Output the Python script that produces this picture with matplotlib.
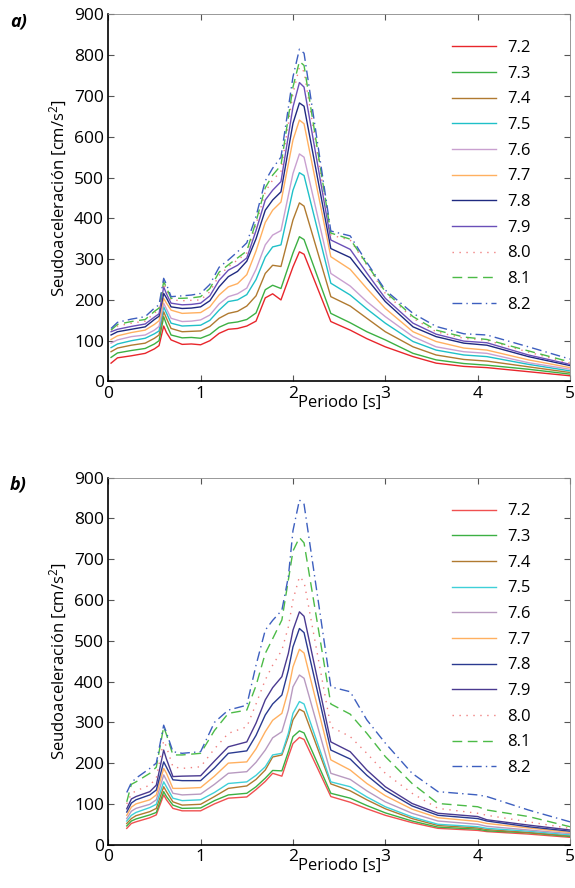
import numpy as np
import matplotlib
matplotlib.use("Agg")
import matplotlib.pyplot as plt

plt.rcParams['font.family'] = ['Open Sans', 'DejaVu Sans']
plt.rcParams['mathtext.fontset'] = 'custom'
plt.rcParams['mathtext.rm'] = 'Open Sans'
plt.rcParams['mathtext.it'] = 'Open Sans:italic'

magnitudes = ['7.2', '7.3', '7.4', '7.5', '7.6', '7.7', '7.8', '7.9', '8.0', '8.1', '8.2']

# ---- panel a) : periods (s) and pseudo-acceleration (cm/s^2) ----
T_a = [0.03, 0.1, 0.25, 0.4, 0.5, 0.55, 0.6, 0.63, 0.68, 0.8, 0.9, 1.0, 1.1, 1.2,
       1.3, 1.4, 1.5, 1.6, 1.7, 1.78, 1.87, 2.0, 2.07, 2.12, 2.41, 2.62, 2.8, 3.0,
       3.3, 3.55, 3.85, 4.1, 4.55, 5.0]
a_72 = [45, 58, 63, 69, 80, 88, 136, 120, 102, 91, 92, 90, 100, 118, 128, 130, 136, 148,
        205, 215, 200, 281, 318, 312, 147, 126, 105, 85, 61, 45, 37, 34, 24, 14]
a_73 = [59, 70, 76, 81, 92, 100, 159, 140, 114, 107, 108, 106, 115, 133, 143, 146, 152, 168,
        225, 236, 228, 315, 355, 348, 167, 144, 122, 102, 69, 53, 44, 40, 30, 18]
a_74 = [73, 82, 89, 94, 106, 114, 171, 155, 130, 122, 123, 124, 135, 155, 167, 172, 185, 210,
        265, 285, 282, 396, 438, 430, 208, 185, 155, 122, 85, 65, 54, 50, 36, 22]
a_75 = [83, 92, 100, 106, 117, 124, 183, 168, 143, 136, 137, 138, 150, 175, 196, 200, 213, 250,
        305, 330, 335, 469, 512, 505, 241, 212, 178, 143, 98, 77, 65, 61, 42, 26]
a_76 = [94, 102, 110, 114, 126, 135, 192, 178, 155, 147, 148, 151, 163, 190, 208, 215, 229, 275,
        335, 359, 370, 510, 558, 550, 265, 234, 196, 159, 110, 85, 73, 69, 46, 30]
a_77 = [103, 112, 120, 126, 140, 149, 204, 192, 175, 167, 168, 169, 183, 212, 232, 240, 262, 320,
        390, 420, 440, 592, 641, 632, 306, 275, 228, 179, 122, 98, 82, 77, 53, 34]
a_78 = [114, 122, 128, 134, 152, 160, 216, 205, 183, 179, 180, 183, 198, 232, 257, 270, 295, 350,
        420, 445, 465, 633, 683, 675, 326, 304, 252, 196, 134, 110, 94, 89, 61, 39]
a_79 = [122, 128, 135, 141, 158, 166, 232, 215, 192, 188, 189, 192, 210, 248, 273, 285, 303, 370,
        445, 469, 490, 673, 733, 722, 347, 324, 266, 204, 143, 116, 99, 95, 65, 42]
a_80 = [126, 136, 143, 148, 168, 176, 241, 225, 200, 198, 199, 200, 220, 260, 281, 298, 315, 385,
        465, 494, 515, 706, 771, 760, 359, 347, 285, 216, 155, 122, 106, 101, 72, 45]
a_81 = [126, 140, 147, 152, 172, 180, 245, 230, 204, 204, 205, 208, 228, 268, 286, 303, 320, 392,
        475, 506, 530, 722, 785, 775, 364, 349, 288, 220, 159, 126, 109, 103, 75, 48]
a_82 = [130, 145, 153, 159, 180, 188, 253, 238, 208, 210, 212, 216, 238, 280, 298, 318, 340, 405,
        492, 523, 550, 747, 815, 805, 369, 357, 292, 224, 167, 135, 117, 114, 85, 55]

# ---- panel b) ----
T_b = [0.2, 0.25, 0.3, 0.45, 0.52, 0.6, 0.63, 0.7, 0.8, 1.0, 1.15, 1.3, 1.5, 1.6, 1.7,
       1.78, 1.88, 1.95, 2.0, 2.07, 2.12, 2.41, 2.62, 2.8, 3.0, 3.29, 3.57, 4.0, 4.1,
       4.55, 5.0]
b_72 = [40, 52, 56, 66, 73, 122, 110, 89, 83, 83, 100, 114, 117, 135, 155, 175, 168, 216,
        248, 263, 258, 118, 104, 88, 72, 54, 40, 35, 32, 26, 18]
b_73 = [46, 58, 63, 73, 79, 130, 118, 97, 89, 90, 108, 122, 126, 142, 163, 182, 181, 228,
        265, 279, 274, 126, 114, 96, 78, 58, 43, 38, 34, 29, 20]
b_74 = [52, 64, 71, 81, 89, 142, 130, 105, 97, 99, 118, 138, 144, 160, 183, 215, 220, 265,
        306, 332, 326, 149, 132, 110, 88, 64, 47, 41, 37, 30, 22]
b_75 = [58, 72, 79, 91, 99, 154, 142, 114, 108, 110, 128, 150, 154, 170, 191, 220, 224, 273,
        322, 351, 345, 154, 142, 117, 93, 68, 50, 44, 40, 33, 24]
b_76 = [64, 82, 89, 99, 110, 171, 158, 126, 122, 124, 148, 175, 179, 202, 232, 262, 277, 330,
        387, 416, 408, 175, 160, 132, 105, 77, 58, 50, 45, 36, 27]
b_77 = [72, 92, 100, 110, 122, 187, 175, 138, 138, 140, 168, 200, 203, 235, 277, 305, 322, 379,
        436, 479, 470, 208, 183, 150, 120, 87, 66, 57, 52, 41, 30]
b_78 = [80, 102, 110, 122, 134, 203, 190, 159, 157, 157, 188, 224, 230, 268, 318, 345, 367, 428,
        485, 530, 520, 232, 210, 170, 133, 95, 72, 64, 58, 44, 33]
b_79 = [88, 112, 118, 130, 146, 232, 210, 167, 168, 169, 205, 240, 252, 298, 355, 385, 412, 469,
        526, 571, 560, 252, 228, 183, 142, 101, 77, 69, 61, 48, 36]
b_80 = [100, 125, 132, 146, 163, 255, 240, 191, 187, 191, 235, 273, 289, 345, 404, 440, 477, 534,
        600, 657, 645, 289, 265, 224, 175, 126, 89, 77, 72, 56, 40]
b_81 = [105, 148, 154, 175, 190, 289, 270, 220, 220, 224, 280, 322, 330, 390, 469, 505, 551, 649,
        720, 753, 740, 345, 320, 273, 216, 150, 101, 93, 85, 69, 44]
b_82 = [128, 152, 163, 187, 200, 293, 275, 228, 224, 228, 300, 330, 342, 440, 526, 550, 575, 657,
        770, 845, 835, 387, 375, 306, 249, 175, 130, 122, 118, 85, 56]

series_a = [a_72, a_73, a_74, a_75, a_76, a_77, a_78, a_79, a_80, a_81, a_82]
series_b = [b_72, b_73, b_74, b_75, b_76, b_77, b_78, b_79, b_80, b_81, b_82]

colors_a = ['#e8262b', '#3cb043', '#b07a30', '#1fc0c8', '#c9a0d0', '#ffb060',
            '#1f2a80', '#6a4fb8', '#f08080', '#4cbb47', '#3d5fbf']
colors_b = ['#f05050', '#3cb043', '#b07a30', '#3fd0d8', '#b89ac0', '#ffb060',
            '#2a3a90', '#4a3a90', '#f08080', '#4cbb47', '#3d5fbf']
styles = ['-'] * 8 + [(0, (1, 4)), (0, (7, 4)), (0, (7, 3, 1, 3))]

fig = plt.figure(figsize=(5.75, 8.88), dpi=100)
ax_a = fig.add_axes([0.1883, 0.5704, 0.803, 0.4133])
ax_b = fig.add_axes([0.1883, 0.0488, 0.803, 0.4133])

for ax, T, series, colors in [(ax_a, T_a, series_a, colors_a), (ax_b, T_b, series_b, colors_b)]:
    for vals, c, ls, lab in zip(series, colors, styles, magnitudes):
        ax.plot(T, vals, color=c, ls=ls, lw=1.0, label=lab)
    ax.set_xlim(0, 5)
    ax.set_ylim(0, 900)
    ax.set_xticks(range(0, 6))
    ax.set_yticks(range(0, 901, 100))
    ax.tick_params(direction='in', top=True, right=True, labelsize=12.5, length=4,
                   color='#555555', pad=3)
    for s in ['top', 'right']:
        ax.spines[s].set_color('#888888')
        ax.spines[s].set_linewidth(0.6)
    for s in ['left', 'bottom']:
        ax.spines[s].set_linewidth(1.2)
    ax.set_xlabel('Periodo [s]', fontsize=12)
    ax.xaxis.set_label_coords(0.5, -0.037)
    ax.set_ylabel('Seudoaceleración [cm/s$^2$]', fontsize=12, labelpad=4)
    ax.legend(loc='upper left', bbox_to_anchor=(0.745, 0.93), frameon=False,
              fontsize=12, handlelength=2.6, handletextpad=0.7, labelspacing=0.58,
              borderpad=0, borderaxespad=0)

fig.text(0.017, 0.986, 'a)', fontsize=13, fontweight='bold', style='italic', va='top')
fig.text(0.017, 0.465, 'b)', fontsize=13, fontweight='bold', style='italic', va='top')

fig.savefig('out.png', dpi=100)
